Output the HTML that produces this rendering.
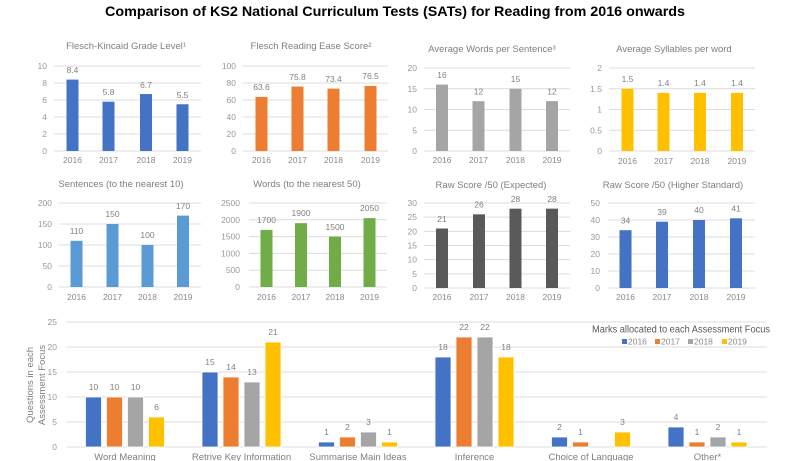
<!DOCTYPE html>
<html>
<head>
<meta charset="utf-8">
<style>
  html,body{margin:0;padding:0;background:#fff;}
  svg{display:block;}
  text{font-family:"Liberation Sans",Arial,sans-serif;}
  .t{font-size:9.5px;fill:#7f7f7f;text-anchor:middle;}
  .tk{font-size:8.5px;fill:#999;text-anchor:end;}
  .yr{font-size:8.5px;fill:#8a8a8a;text-anchor:middle;}
  .dl{font-size:8.5px;fill:#808080;text-anchor:middle;}
  .g{stroke:#dcdcdc;stroke-width:1;}
</style>
</head>
<body>
<svg width="789" height="461" viewBox="0 0 789 461" xmlns="http://www.w3.org/2000/svg">
<rect width="789" height="461" fill="#fff"/>
<text x="395" y="16" text-anchor="middle" font-size="14" font-weight="bold" fill="#000" textLength="580" lengthAdjust="spacingAndGlyphs">Comparison of KS2 National Curriculum Tests (SATs) for Reading from 2016 onwards</text>

<!-- Chart A -->
<text class="t" x="126" y="49">Flesch-Kincaid Grade Level¹</text>
<g class="g">
<line x1="54" x2="201" y1="66" y2="66"/><line x1="54" x2="201" y1="83" y2="83"/><line x1="54" x2="201" y1="100" y2="100"/><line x1="54" x2="201" y1="117" y2="117"/><line x1="54" x2="201" y1="134" y2="134"/><line x1="54" x2="201" y1="151" y2="151"/>
</g>
<text class="tk" x="47" y="69">10</text><text class="tk" x="47" y="86">8</text><text class="tk" x="47" y="103">6</text><text class="tk" x="47" y="120">4</text><text class="tk" x="47" y="137">2</text><text class="tk" x="47" y="154">0</text>
<g fill="#4472C4">
<rect x="66.5" y="79.6" width="12" height="71.4"/><rect x="102.5" y="101.7" width="12" height="49.3"/><rect x="140" y="94.05" width="12" height="56.95"/><rect x="176.5" y="104.25" width="12" height="46.75"/>
</g>
<text class="dl" x="72.5" y="73">8.4</text><text class="dl" x="108.5" y="95">5.8</text><text class="dl" x="146" y="88">6.7</text><text class="dl" x="182.5" y="98">5.5</text>
<text class="yr" x="72.5" y="163">2016</text><text class="yr" x="108.5" y="163">2017</text><text class="yr" x="146" y="163">2018</text><text class="yr" x="182.5" y="163">2019</text>

<!-- Chart B -->
<text class="t" x="311" y="49">Flesch Reading Ease Score²</text>
<g class="g">
<line x1="243" x2="388" y1="66" y2="66"/><line x1="243" x2="388" y1="83" y2="83"/><line x1="243" x2="388" y1="100" y2="100"/><line x1="243" x2="388" y1="117" y2="117"/><line x1="243" x2="388" y1="134" y2="134"/><line x1="243" x2="388" y1="151" y2="151"/>
</g>
<text class="tk" x="236" y="69">100</text><text class="tk" x="236" y="86">80</text><text class="tk" x="236" y="103">60</text><text class="tk" x="236" y="120">40</text><text class="tk" x="236" y="137">20</text><text class="tk" x="236" y="154">0</text>
<g fill="#ED7D31">
<rect x="255.5" y="96.94" width="12" height="54.06"/><rect x="291.5" y="86.57" width="12" height="64.43"/><rect x="327.5" y="88.61" width="12" height="62.39"/><rect x="364.5" y="85.97" width="12" height="65.03"/>
</g>
<text class="dl" x="261.5" y="90">63.6</text><text class="dl" x="297.5" y="80">75.8</text><text class="dl" x="333.5" y="82">73.4</text><text class="dl" x="370.5" y="79">76.5</text>
<text class="yr" x="261.5" y="163">2016</text><text class="yr" x="297.5" y="163">2017</text><text class="yr" x="333.5" y="163">2018</text><text class="yr" x="370.5" y="163">2019</text>

<!-- Chart C -->
<text class="t" x="492" y="52">Average Words per Sentence³</text>
<g class="g">
<line x1="424" x2="570" y1="68" y2="68"/><line x1="424" x2="570" y1="88.75" y2="88.75"/><line x1="424" x2="570" y1="109.5" y2="109.5"/><line x1="424" x2="570" y1="130.25" y2="130.25"/><line x1="424" x2="570" y1="151" y2="151"/>
</g>
<text class="tk" x="417" y="71">20</text><text class="tk" x="417" y="91.75">15</text><text class="tk" x="417" y="112.5">10</text><text class="tk" x="417" y="133.25">5</text><text class="tk" x="417" y="154">0</text>
<g fill="#A5A5A5">
<rect x="436" y="84.6" width="12" height="66.4"/><rect x="472.5" y="101.2" width="12" height="49.8"/><rect x="509.5" y="88.75" width="12" height="62.25"/><rect x="546" y="101.2" width="12" height="49.8"/>
</g>
<text class="dl" x="442" y="78">16</text><text class="dl" x="478.5" y="94.5">12</text><text class="dl" x="515.5" y="82">15</text><text class="dl" x="552" y="94.5">12</text>
<text class="yr" x="442" y="163">2016</text><text class="yr" x="478.5" y="163">2017</text><text class="yr" x="515.5" y="163">2018</text><text class="yr" x="552" y="163">2019</text>

<!-- Chart D -->
<text class="t" x="674" y="52">Average Syllables per word</text>
<g class="g">
<line x1="609" x2="755" y1="68" y2="68"/><line x1="609" x2="755" y1="88.75" y2="88.75"/><line x1="609" x2="755" y1="109.5" y2="109.5"/><line x1="609" x2="755" y1="130.25" y2="130.25"/><line x1="609" x2="755" y1="151" y2="151"/>
</g>
<text class="tk" x="602" y="71">2</text><text class="tk" x="602" y="91.75">1.5</text><text class="tk" x="602" y="112.5">1</text><text class="tk" x="602" y="133.25">0.5</text><text class="tk" x="602" y="154">0</text>
<g fill="#FFC000">
<rect x="621.5" y="88.75" width="12" height="62.25"/><rect x="657.5" y="92.9" width="12" height="58.1"/><rect x="694" y="92.9" width="12" height="58.1"/><rect x="731" y="92.9" width="12" height="58.1"/>
</g>
<text class="dl" x="627.5" y="82">1.5</text><text class="dl" x="663.5" y="86">1.4</text><text class="dl" x="700" y="86">1.4</text><text class="dl" x="737" y="86">1.4</text>
<text class="yr" x="627.5" y="164">2016</text><text class="yr" x="663.5" y="164">2017</text><text class="yr" x="700" y="164">2018</text><text class="yr" x="737" y="164">2019</text>

<!-- Chart E -->
<text class="t" x="121" y="187">Sentences (to the nearest 10)</text>
<g class="g">
<line x1="59" x2="201" y1="203" y2="203"/><line x1="59" x2="201" y1="224" y2="224"/><line x1="59" x2="201" y1="245" y2="245"/><line x1="59" x2="201" y1="266" y2="266"/><line x1="59" x2="201" y1="287" y2="287"/>
</g>
<text class="tk" x="52" y="206">200</text><text class="tk" x="52" y="227">150</text><text class="tk" x="52" y="248">100</text><text class="tk" x="52" y="269">50</text><text class="tk" x="52" y="290">0</text>
<g fill="#5B9BD5">
<rect x="70.5" y="240.8" width="12" height="46.2"/><rect x="106.5" y="224" width="12" height="63"/><rect x="141.5" y="245" width="12" height="42"/><rect x="177" y="215.6" width="12" height="71.4"/>
</g>
<text class="dl" x="76.5" y="234">110</text><text class="dl" x="112.5" y="217">150</text><text class="dl" x="147.5" y="238">100</text><text class="dl" x="183" y="209">170</text>
<text class="yr" x="76.5" y="300">2016</text><text class="yr" x="112.5" y="300">2017</text><text class="yr" x="147.5" y="300">2018</text><text class="yr" x="183" y="300">2019</text>

<!-- Chart F -->
<text class="t" x="307" y="187">Words (to the nearest 50)</text>
<g class="g">
<line x1="249" x2="387" y1="203" y2="203"/><line x1="249" x2="387" y1="219.8" y2="219.8"/><line x1="249" x2="387" y1="236.6" y2="236.6"/><line x1="249" x2="387" y1="253.4" y2="253.4"/><line x1="249" x2="387" y1="270.2" y2="270.2"/><line x1="249" x2="387" y1="287" y2="287"/>
</g>
<text class="tk" x="240" y="206">2500</text><text class="tk" x="240" y="222.8">2000</text><text class="tk" x="240" y="239.6">1500</text><text class="tk" x="240" y="256.4">1000</text><text class="tk" x="240" y="273.2">500</text><text class="tk" x="240" y="290">0</text>
<g fill="#70AD47">
<rect x="260.5" y="229.88" width="12" height="57.12"/><rect x="295" y="223.16" width="12" height="63.84"/><rect x="329" y="236.6" width="12" height="50.4"/><rect x="363.5" y="218.12" width="12" height="68.88"/>
</g>
<text class="dl" x="266.5" y="223">1700</text><text class="dl" x="301" y="216">1900</text><text class="dl" x="335" y="230">1500</text><text class="dl" x="369.5" y="211">2050</text>
<text class="yr" x="266.5" y="300">2016</text><text class="yr" x="301" y="300">2017</text><text class="yr" x="335" y="300">2018</text><text class="yr" x="369.5" y="300">2019</text>

<!-- Chart G -->
<text class="t" x="491" y="188">Raw Score /50 (Expected)</text>
<g class="g">
<line x1="424" x2="570" y1="203" y2="203"/><line x1="424" x2="570" y1="217.17" y2="217.17"/><line x1="424" x2="570" y1="231.33" y2="231.33"/><line x1="424" x2="570" y1="245.5" y2="245.5"/><line x1="424" x2="570" y1="259.67" y2="259.67"/><line x1="424" x2="570" y1="273.83" y2="273.83"/><line x1="424" x2="570" y1="288" y2="288"/>
</g>
<text class="tk" x="417" y="206">30</text><text class="tk" x="417" y="220.2">25</text><text class="tk" x="417" y="234.3">20</text><text class="tk" x="417" y="248.5">15</text><text class="tk" x="417" y="262.7">10</text><text class="tk" x="417" y="276.8">5</text><text class="tk" x="417" y="291">0</text>
<g fill="#595959">
<rect x="436" y="228.5" width="12" height="59.5"/><rect x="473" y="214.33" width="12" height="73.67"/><rect x="509.5" y="208.67" width="12" height="79.33"/><rect x="546" y="208.67" width="12" height="79.33"/>
</g>
<text class="dl" x="442" y="222">21</text><text class="dl" x="479" y="207.5">26</text><text class="dl" x="515.5" y="202">28</text><text class="dl" x="552" y="202">28</text>
<text class="yr" x="442" y="300">2016</text><text class="yr" x="479" y="300">2017</text><text class="yr" x="515.5" y="300">2018</text><text class="yr" x="552" y="300">2019</text>

<!-- Chart H -->
<text class="t" x="673" y="188">Raw Score /50 (Higher Standard)</text>
<g class="g">
<line x1="608" x2="755" y1="203" y2="203"/><line x1="608" x2="755" y1="220" y2="220"/><line x1="608" x2="755" y1="237" y2="237"/><line x1="608" x2="755" y1="254" y2="254"/><line x1="608" x2="755" y1="271" y2="271"/><line x1="608" x2="755" y1="288" y2="288"/>
</g>
<text class="tk" x="600" y="206">50</text><text class="tk" x="600" y="223">40</text><text class="tk" x="600" y="240">30</text><text class="tk" x="600" y="257">20</text><text class="tk" x="600" y="274">10</text><text class="tk" x="600" y="291">0</text>
<g fill="#4472C4">
<rect x="619.5" y="230.2" width="12" height="57.8"/><rect x="656" y="221.7" width="12" height="66.3"/><rect x="693" y="220" width="12" height="68"/><rect x="730" y="218.3" width="12" height="69.7"/>
</g>
<text class="dl" x="625.5" y="223.5">34</text><text class="dl" x="662" y="215">39</text><text class="dl" x="699" y="213">40</text><text class="dl" x="736" y="211.5">41</text>
<text class="yr" x="625.5" y="300">2016</text><text class="yr" x="662" y="300">2017</text><text class="yr" x="699" y="300">2018</text><text class="yr" x="736" y="300">2019</text>

<!-- Bottom chart -->
<g class="g">
<line x1="67" x2="767" y1="322" y2="322"/><line x1="67" x2="767" y1="347" y2="347"/><line x1="67" x2="767" y1="372" y2="372"/><line x1="67" x2="767" y1="397" y2="397"/><line x1="67" x2="767" y1="422" y2="422"/><line x1="67" x2="767" y1="447" y2="447"/>
</g>
<text class="tk" x="57" y="325">25</text><text class="tk" x="57" y="350">20</text><text class="tk" x="57" y="375">15</text><text class="tk" x="57" y="400">10</text><text class="tk" x="57" y="425">5</text><text class="tk" x="57" y="450">0</text>
<text class="t" transform="translate(33,385) rotate(-90)">Questions in each</text>
<text class="t" transform="translate(45,385) rotate(-90)">Assessment Focus</text>

<g fill="#4472C4" stroke="#fff" stroke-width="0.8">
<rect x="85.5" y="397" width="16" height="50"/><rect x="202" y="372" width="16" height="75"/><rect x="318.5" y="442" width="16" height="5"/><rect x="435" y="357" width="16" height="90"/><rect x="551.5" y="437" width="16" height="10"/><rect x="668" y="427" width="16" height="20"/>
</g>
<g fill="#ED7D31" stroke="#fff" stroke-width="0.8">
<rect x="106.5" y="397" width="16" height="50"/><rect x="223" y="377" width="16" height="70"/><rect x="339.5" y="437" width="16" height="10"/><rect x="456" y="337" width="16" height="110"/><rect x="572.5" y="442" width="16" height="5"/><rect x="689" y="442" width="16" height="5"/>
</g>
<g fill="#A5A5A5" stroke="#fff" stroke-width="0.8">
<rect x="127.5" y="397" width="16" height="50"/><rect x="244" y="382" width="16" height="65"/><rect x="360.5" y="432" width="16" height="15"/><rect x="477" y="337" width="16" height="110"/><rect x="710" y="437" width="16" height="10"/>
</g>
<g fill="#FFC000" stroke="#fff" stroke-width="0.8">
<rect x="148.5" y="417" width="16" height="30"/><rect x="265" y="342" width="16" height="105"/><rect x="381.5" y="442" width="16" height="5"/><rect x="498" y="357" width="16" height="90"/><rect x="614.5" y="432" width="16" height="15"/><rect x="731" y="442" width="16" height="5"/>
</g>

<text class="dl" x="93.5" y="390">10</text><text class="dl" x="114.5" y="390">10</text><text class="dl" x="135.5" y="390">10</text><text class="dl" x="156.5" y="410">6</text>
<text class="dl" x="210" y="365">15</text><text class="dl" x="231" y="370">14</text><text class="dl" x="252" y="375">13</text><text class="dl" x="273" y="335">21</text>
<text class="dl" x="326.5" y="435">1</text><text class="dl" x="347.5" y="430">2</text><text class="dl" x="368.5" y="425">3</text><text class="dl" x="389.5" y="435">1</text>
<text class="dl" x="443" y="350">18</text><text class="dl" x="464" y="330">22</text><text class="dl" x="485" y="330">22</text><text class="dl" x="506" y="350">18</text>
<text class="dl" x="559.5" y="430">2</text><text class="dl" x="580.5" y="435">1</text><text class="dl" x="622.5" y="425">3</text>
<text class="dl" x="676" y="420">4</text><text class="dl" x="697" y="435">1</text><text class="dl" x="718" y="430">2</text><text class="dl" x="739" y="435">1</text>

<text class="t" x="125" y="460">Word Meaning</text>
<text class="t" x="241.5" y="460">Retrive Key Information</text>
<text class="t" x="358" y="460">Summarise Main Ideas</text>
<text class="t" x="474.5" y="460">Inference</text>
<text class="t" x="591" y="460">Choice of Language</text>
<text class="t" x="707.5" y="460">Other*</text>

<!-- Legend -->
<text x="770" y="332.5" text-anchor="end" font-size="10" fill="#595959" textLength="178" lengthAdjust="spacingAndGlyphs">Marks allocated to each Assessment Focus</text>
<rect x="622" y="339" width="5" height="5" fill="#4472C4"/><text x="628" y="344.5" font-size="8.5" fill="#8a8a8a">2016</text>
<rect x="655" y="339" width="5" height="5" fill="#ED7D31"/><text x="661" y="344.5" font-size="8.5" fill="#8a8a8a">2017</text>
<rect x="688" y="339" width="5" height="5" fill="#A5A5A5"/><text x="694" y="344.5" font-size="8.5" fill="#8a8a8a">2018</text>
<rect x="722" y="339" width="5" height="5" fill="#FFC000"/><text x="728" y="344.5" font-size="8.5" fill="#8a8a8a">2019</text>
</svg>
</body>
</html>
